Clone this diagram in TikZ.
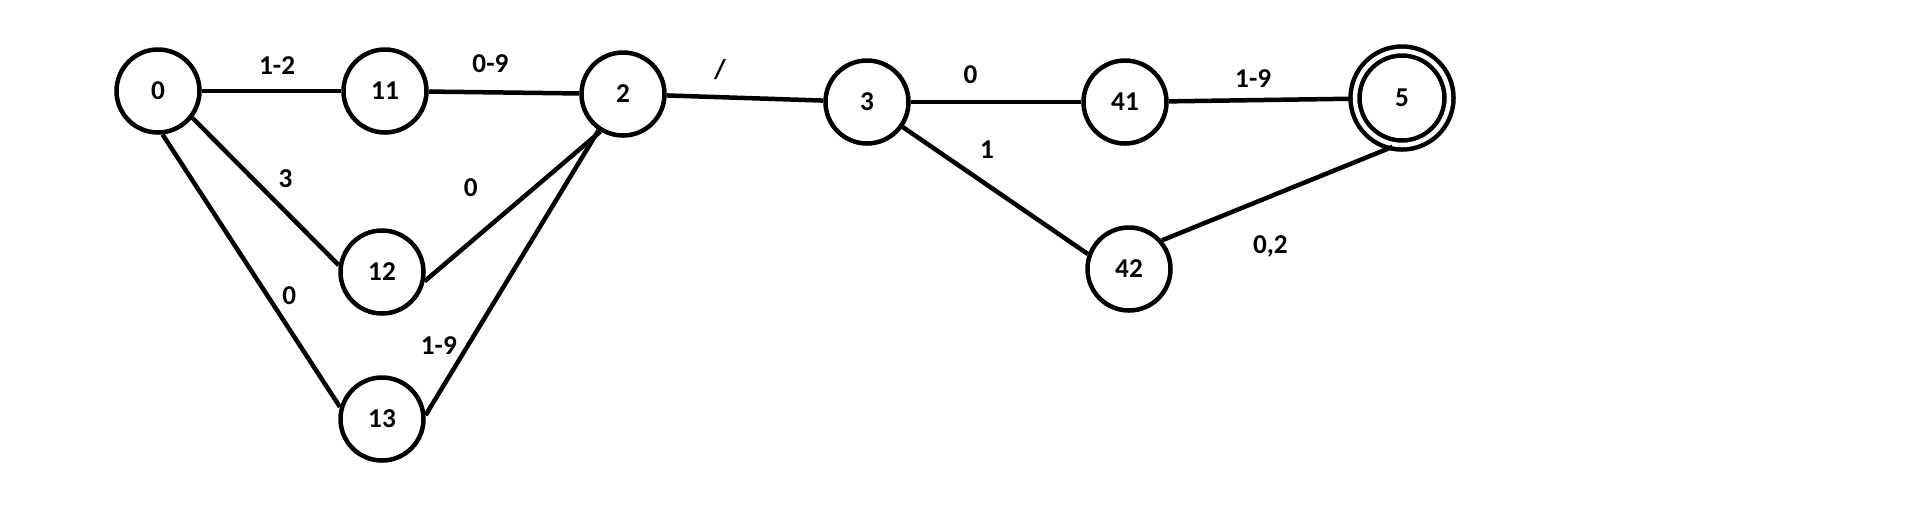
\documentclass[tikz,border=0pt]{standalone}
\usepackage{fontspec}
\setmainfont{Carlito}
\usetikzlibrary{automata, positioning}
\tikzset{
every node/.style={font=\bfseries\fontsize{15.5}{18}\selectfont}, % bold labels like the sketch
node distance=4.8cm, % default gap between state centres
every state/.style={line width=0.09cm, minimum size=1.66cm, inner sep=0pt}, % plain open circles
every edge/.style={draw, line width=0.09cm}, % undirected, so no arrow tips
tag/.style={inner sep=0pt}, % edge labels sit close to the lines
}
\begin{document}
\begin{tikzpicture}
    \useasboundingbox (-3.16,-8.50) rectangle (35.44,1.82);
    \node[state] (n0) {0};
    \node[state, right of=n0, node distance=4.54cm] (n11) {11};
    \node[state, right of=n11, node distance=4.76cm, yshift=-0.06cm] (n2) {2};
    \node[state, right of=n2, node distance=4.88cm, yshift=-0.16cm] (n3) {3};
    \node[state, right of=n3, node distance=5.16cm] (n41) {41};
    \node[state, accepting, right of=n41, node distance=5.54cm, yshift=0.08cm, minimum size=1.88cm, double distance=0.09cm] (n5) {5};
    \node[state, below of=n11, node distance=3.62cm, xshift=-0.06cm] (n12) {12};
    \node[state, below of=n12, node distance=2.94cm] (n13) {13};
    \node[state, below of=n41, node distance=3.34cm, xshift=0.08cm] (n42) {42};
    \draw (n0) edge node[tag, pos=.54, above=0.28cm] {1-2} (n11)
    (n11) edge node[tag, pos=.41, above=0.35cm] {0-9} (n2)
    (n0.-38) edge node[tag, pos=.53, above right=0.18cm] {3} (n12.171)
    (n0.-84) edge node[tag, pos=.59, right=0.26cm] {0} (n13.164)
    (n12.-12) edge node[tag, pos=.41, above left=0.41cm and 0.34cm] {0} (n2.-121)
    (n13.5) edge node[tag, pos=.2, above left=0.03cm] {1-9} (n2.-124)
    (n2) edge node[tag, pos=.34, above=0.3cm] {/} (n3)
    (n3) edge node[tag, pos=.35, above=0.32cm] {0} (n41)
    (n3.-35) edge node[tag, pos=.36, above right=0.25cm and 0.17cm] {1} (n42.160)
    (n41) edge node[tag, pos=.46, above=0.2cm] {1-9} (n5)
    (n42.41) edge node[tag, pos=.47, below=0.73cm] {0,2} (n5.-101);
\end{tikzpicture}
\end{document}
